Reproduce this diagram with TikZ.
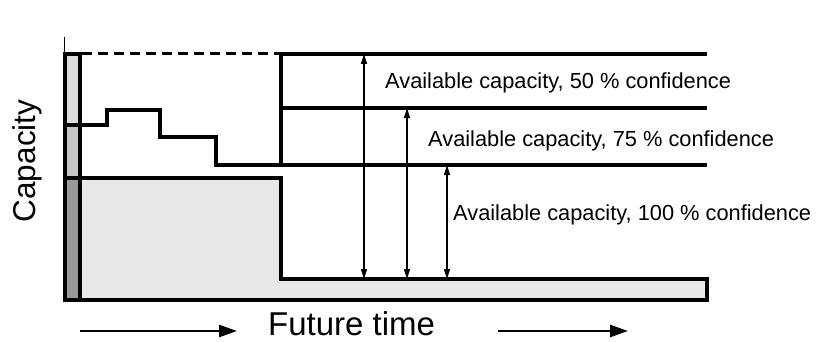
\documentclass[tikz,border=0pt]{standalone}
\usepackage{fontspec}
\setmainfont{Liberation Sans}
\usetikzlibrary{arrows.meta}
\definecolor{barlight}{gray}{0.86}
\definecolor{barmid}{gray}{0.78}
\definecolor{bardark}{gray}{0.60}
\definecolor{areafill}{gray}{0.91}
\tikzset{
  heavy/.style={line width=3.5pt, line join=miter},
  dimarrow/.style={line width=1.3pt, {Triangle[length=10pt,width=6pt]}-{Triangle[length=10pt,width=6pt]}},
  timearrow/.style={line width=2.6pt, -{Triangle[length=18pt,width=12pt]}},
  conf/.style={inner sep=0pt, anchor=base west, font=\fontsize{21.8}{26}\selectfont},
}
\begin{document}
\begin{tikzpicture}[x=1pt,y=-1pt]
\useasboundingbox (0,0) rectangle (818,342);
% key coordinates
\coordinate (axtop) at (64.5,37);
\coordinate (axbot) at (64.5,54);
\coordinate (t50) at (364,54);   \coordinate (b50) at (364,279);
\coordinate (t75) at (407,108);  \coordinate (b75) at (407,279);
\coordinate (t100) at (447,165); \coordinate (b100) at (447,279);
\coordinate (l1a) at (80,331);  \coordinate (l1b) at (237,331);
\coordinate (l2a) at (498,331); \coordinate (l2b) at (628,331);
% shaded area
\draw[heavy, fill=areafill] (80,178) -- (281,178) -- (281,279) -- (707,279) -- (707,300) -- (80,300) -- cycle;
% bar
\fill[barlight] (64.5,54) rectangle (80.3,125);
\fill[barmid] (64.5,125) rectangle (80.3,178);
\fill[bardark] (64.5,178) rectangle (80.3,300);
\draw[heavy] (64.5,125) -- (80.3,125);
\draw[heavy] (64.5,178) -- (80.3,178);
\draw[line width=4pt] (64.5,54) rectangle (80.3,300);
% axis
\draw[line width=1.2pt] (axtop) -- (axbot);
% dashed top
\draw[line width=3pt, dash pattern=on 10pt off 6pt] (82,54) -- (281,54);
% step line
\draw[heavy] (80,125) -- (107,125) -- (107,110) -- (160,110) -- (160,137) -- (216,137) -- (216,165) -- (707,165);
% upper lines
\draw[heavy] (281,165) -- (281,54) -- (707,54);
\draw[heavy] (281,108) -- (707,108);
% dimension arrows
\draw[dimarrow] (t50) -- (b50);
\draw[dimarrow] (t75) -- (b75);
\draw[dimarrow] (t100) -- (b100);
% labels
\node[conf] (c50) at (385,89) {Available capacity, 50 \% confidence};
\node[conf] (c75) at (428,146) {Available capacity, 75 \% confidence};
\node[conf] (c100) at (453,220) {Available capacity, 100 \% confidence};
\node[inner sep=0pt, anchor=base, rotate=90, font=\fontsize{31.5}{36}\selectfont] (cap) at (35.5,161) {Capacity};
\node[inner sep=0pt, anchor=base west, font=\fontsize{33}{38}\selectfont] (ft) at (268,335) {Future time};
% time arrows
\draw[timearrow] (l1a) -- (l1b);
\draw[timearrow] (l2a) -- (l2b);
\end{tikzpicture}
\end{document}
